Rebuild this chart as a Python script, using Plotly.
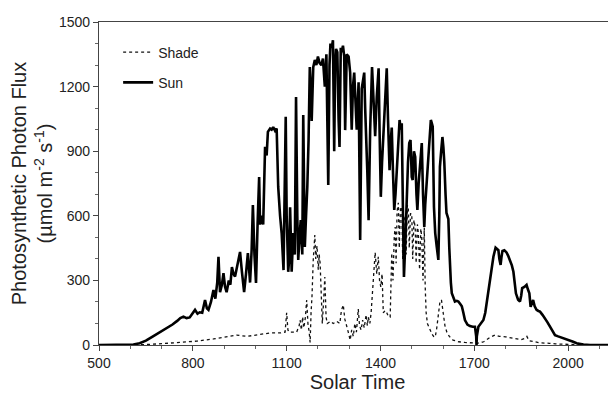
import plotly.graph_objects as go

# ---- data ----
sun_time = [500, 560, 590, 610, 630, 650, 670, 690, 705, 720, 735, 750, 760, 770, 780, 790, 800, 807, 815, 822,
            830, 839, 845, 850, 858, 866, 872, 878, 882, 887, 893, 898, 903, 908, 915, 920, 925, 930, 935, 942,
            951, 957, 964, 970, 976, 980, 983, 988, 992, 997, 1002, 1007, 1012, 1015, 1020, 1025, 1031, 1036, 1040, 1047,
            1052, 1057, 1063, 1068, 1073, 1079, 1084, 1090, 1094, 1097, 1100, 1105, 1108, 1111, 1116, 1121, 1126, 1130, 1134, 1137,
            1141, 1145, 1150, 1153, 1156, 1158, 1162, 1166, 1170, 1174, 1177, 1180, 1185, 1190, 1195, 1200, 1205, 1211, 1216, 1222,
            1227, 1233, 1237, 1240, 1244, 1248, 1252, 1255, 1258, 1262, 1266, 1269, 1273, 1276, 1280, 1284, 1287, 1292, 1298, 1303,
            1308, 1312, 1316, 1320, 1324, 1330, 1335, 1340, 1344, 1348, 1351, 1354, 1358, 1362, 1367, 1373, 1378, 1383, 1388, 1394,
            1397, 1401, 1405, 1410, 1415, 1420, 1424, 1429, 1433, 1436, 1440, 1444, 1448, 1452, 1456, 1461, 1465, 1468, 1472, 1475,
            1480, 1484, 1488, 1492, 1496, 1500, 1503, 1507, 1511, 1515, 1518, 1522, 1525, 1529, 1532, 1536, 1540, 1543, 1546, 1550,
            1553, 1557, 1561, 1564, 1567, 1571, 1575, 1580, 1585, 1588, 1590, 1594, 1598, 1601, 1604, 1608, 1611, 1614, 1617, 1620,
            1622, 1625, 1628, 1633, 1638, 1644, 1649, 1655, 1660, 1665, 1670, 1678, 1686, 1695, 1702, 1706, 1707, 1708, 1713, 1720,
            1729, 1735, 1741, 1750, 1756, 1761, 1768, 1772, 1777, 1780, 1784, 1787, 1790, 1796, 1803, 1808, 1814, 1820, 1825, 1829,
            1833, 1840, 1846, 1850, 1853, 1860, 1867, 1871, 1876, 1880, 1884, 1888, 1893, 1899, 1905, 1910, 1918, 1926, 1934, 1942,
            1950, 1958, 1968, 1979, 1990, 2006, 2016, 2027, 2040, 2049, 2070, 2100, 2150]
sun_ppf = [0, 0, 0, 2, 8, 20, 38, 55, 70, 82, 95, 112, 125, 132, 125, 128, 148, 163, 145, 152,
           150, 209, 170, 163, 200, 255, 215, 290, 410, 245, 280, 334, 270, 245, 300, 280, 362, 330, 318, 370,
           432, 340, 246, 330, 427, 350, 290, 440, 650, 420, 288, 560, 780, 560, 600, 560, 920, 880, 990, 1005,
           1000, 1012, 995, 1005, 734, 600, 520, 348, 700, 1060, 600, 340, 400, 640, 340, 520, 420, 1152, 600, 395,
           500, 580, 420, 1068, 700, 455, 600, 734, 950, 1291, 1200, 1040, 1290, 1324, 1300, 1340, 1310, 1300, 1330, 1200,
           1350, 743, 1300, 1400, 1380, 1415, 900, 1300, 1375, 1360, 1050, 920, 1380, 1360, 1390, 1340, 998, 1350, 1340, 1265,
           1000, 1200, 1265, 1100, 1000, 1220, 488, 1190, 1230, 1265, 1100, 985, 800, 580, 1000, 1291, 1100, 970, 1150, 1285,
           1000, 688, 850, 1000, 1200, 1285, 1050, 812, 950, 1010, 800, 627, 700, 812, 950, 1045, 1000, 1030, 600, 316,
           500, 706, 850, 938, 952, 780, 766, 900, 873, 700, 627, 750, 798, 880, 938, 700, 548, 650, 720, 780,
           830, 950, 1045, 1030, 1014, 641, 520, 455, 395, 600, 827, 900, 966, 920, 850, 700, 613, 600, 585, 450,
           362, 290, 240, 215, 202, 205, 202, 190, 180, 150, 116, 95, 88, 85, 85, 40, 0, 40, 85, 100,
           116, 150, 209, 295, 360, 410, 452, 445, 440, 400, 372, 410, 437, 440, 430, 415, 395, 370, 340, 290,
           240, 210, 202, 230, 264, 270, 279, 260, 240, 177, 200, 209, 180, 163, 158, 155, 140, 125, 105, 85,
           65, 46, 40, 35, 28, 23, 15, 8, 4, 2, 0, 0, 0]

shade_time = [500, 600, 650, 700, 760, 813, 866, 900, 919, 940, 973, 1005, 1030, 1047, 1079, 1095, 1100, 1104, 1108, 1132,
              1140, 1143, 1147, 1151, 1155, 1160, 1164, 1168, 1172, 1175, 1178, 1181, 1185, 1190, 1193, 1197, 1201, 1204, 1207, 1210,
              1214, 1218, 1222, 1226, 1230, 1240, 1249, 1260, 1270, 1275, 1281, 1286, 1292, 1297, 1303, 1308, 1313, 1318, 1323, 1329,
              1333, 1338, 1343, 1348, 1354, 1358, 1361, 1366, 1370, 1375, 1379, 1383, 1388, 1393, 1397, 1401, 1405, 1409, 1415, 1420,
              1426, 1431, 1436, 1440, 1444, 1447, 1450, 1453, 1457, 1460, 1464, 1468, 1471, 1475, 1479, 1482, 1486, 1489, 1492, 1496,
              1500, 1503, 1507, 1511, 1514, 1518, 1521, 1525, 1529, 1532, 1536, 1540, 1543, 1546, 1550, 1555, 1560, 1565, 1570, 1575,
              1580, 1585, 1590, 1595, 1600, 1606, 1612, 1620, 1632, 1650, 1670, 1690, 1710, 1730, 1750, 1766, 1780, 1800, 1825, 1850,
              1860, 1868, 1875, 1890, 1910, 1940, 1960, 2000, 2050, 2150]
shade_ppf = [0, 0, 2, 6, 12, 18, 28, 35, 40, 46, 40, 46, 50, 56, 56, 60, 150, 70, 60, 60,
             90, 116, 70, 130, 80, 130, 209, 100, 60, 12, 150, 225, 395, 511, 400, 460, 350, 420, 380, 250,
             100, 200, 316, 130, 100, 110, 100, 110, 100, 160, 186, 120, 93, 60, 23, 70, 40, 100, 60, 167,
             90, 70, 116, 80, 140, 90, 130, 100, 150, 250, 334, 430, 330, 410, 300, 270, 330, 150, 160, 150,
             130, 130, 427, 300, 500, 548, 380, 620, 660, 450, 640, 640, 400, 600, 580, 420, 650, 640, 450, 610,
             610, 400, 580, 548, 380, 560, 520, 350, 540, 500, 300, 545, 270, 150, 100, 80, 60, 50, 40, 37,
             80, 150, 200, 209, 150, 90, 60, 40, 23, 15, 12, 10, 8, 15, 35, 46, 40, 38, 30, 25,
             30, 40, 20, 15, 10, 8, 5, 3, 0, 0]

x_ticks = [500, 800, 1100, 1400, 1700, 2000]
y_ticks = [0, 300, 600, 900, 1200, 1500]

FONT = "Liberation Sans, Arial, Helvetica, sans-serif"

fig = go.Figure()
fig.add_trace(go.Scatter(x=shade_time, y=shade_ppf, mode="lines", name="Shade", legendgroup="a",
                         line=dict(color="#111111", width=1.3, dash="dot")))
fig.add_trace(go.Scatter(x=sun_time, y=sun_ppf, mode="lines", name="Sun", legendgroup="b",
                         line=dict(color="#000000", width=2.6)))

axis_common = dict(showgrid=False, zeroline=False, showline=True, linecolor="#444444", linewidth=1.3,
                   ticks="outside", ticklen=5, tickwidth=1, tickcolor="#444444", automargin=False,
                   tickfont=dict(family=FONT, size=14, color="#222222"))

fig.update_xaxes(range=[500, 2153], tickvals=x_ticks, mirror=True,
                 minor=dict(dtick=100, ticks="outside", ticklen=3, tickcolor="#666666"),
                 title=dict(text="Solar Time", font=dict(family=FONT, size=20, color="#222222"), standoff=0),
                 **axis_common)
fig.update_yaxes(range=[0, 1500], tickvals=y_ticks,
                 minor=dict(dtick=100, ticks="outside", ticklen=3, tickcolor="#666666"),
                 title=dict(text="Photosynthetic Photon Flux<br>(µmol m<sup>-2</sup> s<sup>-1</sup>)",
                            font=dict(family=FONT, size=20, color="#222222"), standoff=2),
                 **axis_common)

# the page body adds an 8 px margin, so the figure is drawn 8 px smaller
fig.update_layout(
    width=608, height=394,
    margin=dict(l=91, r=0, t=14, b=57, autoexpand=False),
    paper_bgcolor="white", plot_bgcolor="white",
    showlegend=True,
    legend=dict(x=0.037, y=0.955, xanchor="left", yanchor="top", bgcolor="rgba(0,0,0,0)",
                font=dict(family=FONT, size=14, color="#222222"), tracegroupgap=9),
)

fig.write_html("out.html")
